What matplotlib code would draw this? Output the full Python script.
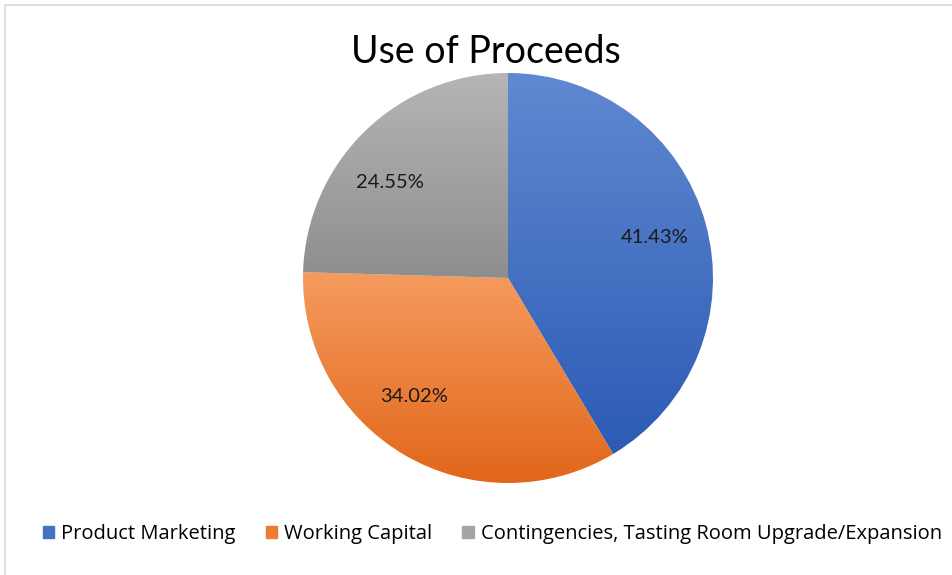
import numpy as np
import matplotlib
matplotlib.use("Agg")
import matplotlib.pyplot as plt
from matplotlib.colors import LinearSegmentedColormap

# data
categories = ["Product Marketing", "Working Capital",
              "Contingencies, Tasting Room Upgrade/Expansion"]
shares = [41.43, 34.02, 24.55]
# (top colour, bottom colour) for the gradient of each slice
grads = [("#6089D0", "#2C5BB5"), ("#F59B5E", "#E2661A"), ("#B5B5B5", "#8E8E8E")]
legend_colors = ["#4472C4", "#ED7D31", "#A5A5A5"]
# excel "best fit" shifts the labels a little off the mid angle (degrees)
label_shift = [0, -8, 7]

fig = plt.figure(figsize=(9.52, 5.75), dpi=100)
ax = fig.add_axes([0, 0, 1, 1])

# chart border (only top/left visible in the reference)
ax.plot([4.5, 4.5, 960], [-10, 570.5, 570.5], color="#D9D9D9", lw=1.2)

cx, cy, r = 508, 297, 205
wedges, texts = ax.pie(shares, center=(cx, cy), radius=r, startangle=90,
                       counterclock=False, frame=True,
                       wedgeprops=dict(linewidth=0))

for w, (top, bot) in zip(wedges, grads):
    w.set_facecolor("none")
    ext = w.get_path().get_extents()
    cmap = LinearSegmentedColormap.from_list("g", [bot, top])
    grad = np.linspace(0, 1, 256).reshape(-1, 1)
    im = ax.imshow(grad, cmap=cmap, origin="lower", aspect="auto",
                   extent=[ext.x0, ext.x1, ext.y0, ext.y1], zorder=1)
    im.set_clip_path(w)

ax.set_xlim(0, 952)
ax.set_ylim(0, 575)
ax.set_aspect("equal")
ax.axis("off")

# percentage labels
ang0 = 90
for val, sh in zip(shares, label_shift):
    mid = np.deg2rad(ang0 - val * 3.6 / 2 + sh)
    ang0 -= val * 3.6
    ax.text(cx + 0.74 * r * np.cos(mid), cy + 0.74 * r * np.sin(mid),
            f"{val:.2f}%", ha="center", va="center", fontsize=14.5,
            family="Lato", color="#1a1a1a", zorder=3)

ax.text(486, 523, "Use of Proceeds", ha="center", va="center",
        fontsize=27, family="Lato", color="black")

# legend
handles = [plt.Rectangle((0, 0), 1, 1, color=c) for c in legend_colors]
fig.legend(handles, categories, loc="center left",
           bbox_to_anchor=(0.037, 0.071), ncol=3, frameon=False,
           prop=dict(family="Open Sans", size=14.5), handlelength=0.55,
           handleheight=0.55, handletextpad=0.35, columnspacing=1.5,
           borderaxespad=0)

fig.savefig("out.png", dpi=100)
